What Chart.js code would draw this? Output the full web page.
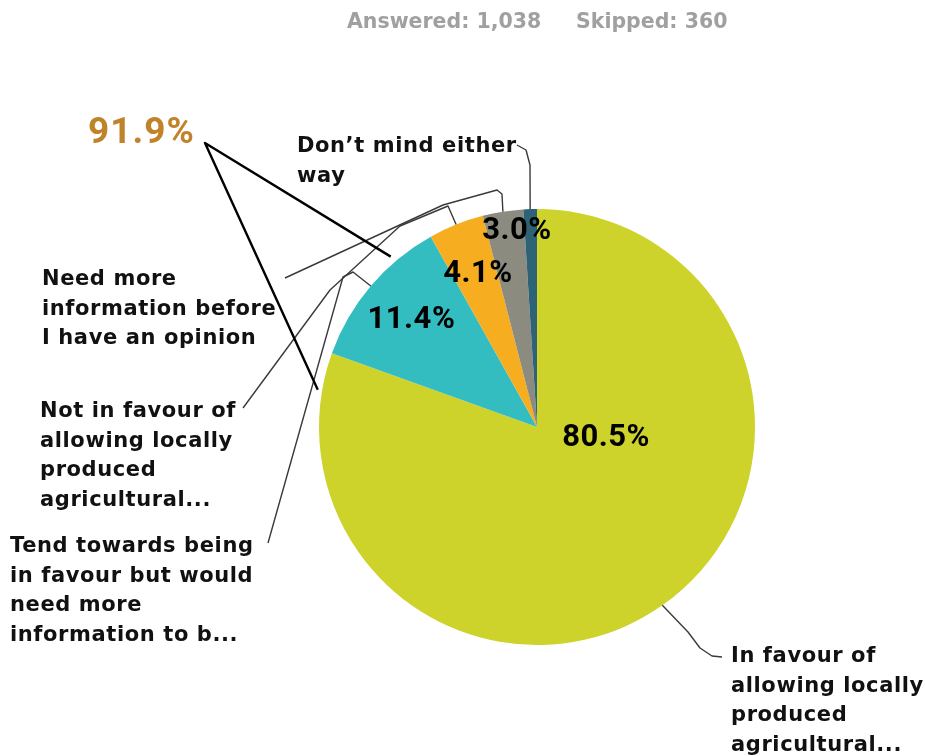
<!DOCTYPE html>
<html>
<head>
<meta charset="utf-8">
<script src="https://cdn.jsdelivr.net/npm/chart.js@4.4.1/dist/chart.umd.min.js"></script>
<style>
  html, body { margin: 0; padding: 0; background: #fff; }
  #wrap { position: relative; width: 925px; height: 756px; }
</style>
</head>
<body>
<div id="wrap"><canvas id="pieChart" width="925" height="756"></canvas></div>
<script>
"use strict";

// survey answers, clockwise from 12 o'clock
var categories = [
    ['In favour of', 'allowing locally', 'produced', 'agricultural...'],
    ['Tend towards being', 'in favour but would', 'need more', 'information to b...'],
    ['Not in favour of', 'allowing locally', 'produced', 'agricultural...'],
    ['Need more', 'information before', 'I have an opinion'],
    ['Don\u2019t mind either', 'way']
];
var percentages = [80.5, 11.4, 4.1, 3.0, 1.0];
var answered = 1038;
var skipped = 360;
// slices summed in the highlighted callout
var highlightSlices = [0, 1];

var sliceColors = ['#cdd32a', '#34bdc0', '#f6ae20', '#8c8b7f', '#2e6276'];

// outside label layout: first line anchor and leader path (ends on the slice edge)
var outerLabels = [
    { x: 731, y: 657, leader: [[722, 657], [712, 656], [700, 648], [688, 632]] },
    { x: 10, y: 547, leader: [[268, 543], [343, 277], [353, 272]] },
    { x: 40, y: 412, leader: [[243, 408], [330, 290], [400, 226], [448, 206]] },
    { x: 42, y: 280, leader: [[285, 278], [443, 205], [497, 190], [502, 194]] },
    { x: 297, y: 147, leader: [[517, 145], [526, 150], [530, 165]] }
];
// inner percentage label anchors, in radius units from the pie centre
var innerLabelPos = [[0.317, 0.05], [-0.576, -0.49], [-0.271, -0.70], [-0.092, -0.90], null];

var LABEL_FONT = 'bold 21px "DejaVu Sans", Verdana, sans-serif';

function fmtPct(v) {
    return v.toFixed(1) + '%';
}

function edgePoint(arc, frac, scale) {
    var a = arc.startAngle + (arc.endAngle - arc.startAngle) * frac;
    var r = arc.outerRadius * (scale || 1);
    return [arc.x + r * Math.cos(a), arc.y + r * Math.sin(a)];
}

var pieLabels = {
    id: 'pieLabels',
    afterDatasetsDraw: function (chart) {
        var ctx = chart.ctx;
        var arcs = chart.getDatasetMeta(0).data;
        ctx.save();

        // header
        ctx.font = 'bold 20.5px "DejaVu Sans", Verdana, sans-serif';
        ctx.fillStyle = '#a0a0a0';
        ctx.textBaseline = 'middle';
        ctx.textAlign = 'left';
        ctx.fillText('Answered: ' + answered.toLocaleString('en-US'), 347, 23);
        ctx.fillText('Skipped: ' + skipped, 576, 23);

        // leader lines
        ctx.strokeStyle = '#3a3a3a';
        ctx.lineWidth = 1.4;
        ctx.lineJoin = 'round';
        outerLabels.forEach(function (lbl, i) {
            var end = edgePoint(arcs[i], 0.5, 1.0);
            var pts = lbl.leader.concat([end]);
            ctx.beginPath();
            ctx.moveTo(pts[0][0], pts[0][1]);
            for (var k = 1; k < pts.length; k++) {
                ctx.lineTo(pts[k][0], pts[k][1]);
            }
            ctx.stroke();
        });

        // outside category labels
        ctx.font = LABEL_FONT;
        ctx.letterSpacing = '0.6px';
        ctx.fillStyle = '#111';
        outerLabels.forEach(function (lbl, i) {
            categories[i].forEach(function (line, j) {
                ctx.fillText(line, lbl.x, lbl.y + j * 29.5);
            });
        });

        // percentages inside the slices
        ctx.letterSpacing = '0.5px';
        ctx.font = 'bold 31px Roboto, sans-serif';
        ctx.textAlign = 'center';
        ctx.fillStyle = '#000';
        arcs.forEach(function (arc, i) {
            var p = innerLabelPos[i];
            if (!p) return;
            ctx.fillText(fmtPct(percentages[i]), arc.x + p[0] * arc.outerRadius, arc.y + p[1] * arc.outerRadius);
        });

        // combined share callout
        var total = highlightSlices.reduce(function (s, i) { return s + percentages[i]; }, 0);
        var tip = [205, 143];
        var ends = [edgePoint(arcs[0], 0.965, 1.02), edgePoint(arcs[1], 0.72, 1.03)];
        ctx.strokeStyle = '#000';
        ctx.lineWidth = 2.4;
        ctx.beginPath();
        ctx.moveTo(ends[1][0], ends[1][1]);
        ctx.lineTo(tip[0], tip[1]);
        ctx.lineTo(ends[0][0], ends[0][1]);
        ctx.stroke();

        ctx.font = 'bold 37px Roboto, sans-serif';
        ctx.letterSpacing = '1px';
        ctx.fillStyle = '#c0832a';
        ctx.textAlign = 'left';
        ctx.fillText(fmtPct(total), 88, 134);

        ctx.restore();
    }
};

new Chart(document.getElementById('pieChart'), {
    type: 'pie',
    data: {
        labels: categories.map(function (c) { return c.join(' '); }),
        datasets: [{
            data: percentages,
            backgroundColor: sliceColors,
            borderWidth: 0,
            hoverOffset: 0
        }]
    },
    options: {
        responsive: false,
        animation: false,
        layout: { padding: { left: 319, right: 170, top: 209, bottom: 111 } },
        plugins: {
            legend: { display: false },
            tooltip: { enabled: false }
        }
    },
    plugins: [pieLabels]
});
</script>
</body>
</html>
